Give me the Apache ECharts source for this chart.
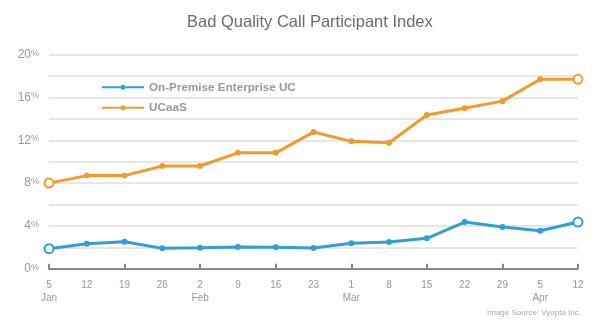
<!DOCTYPE html>
<html><head><meta charset="utf-8">
<script src="https://cdn.jsdelivr.net/npm/echarts@6/dist/echarts.min.js"></script>
<style>html,body{margin:0;padding:0;background:#fff}#c{width:600px;height:322px}</style>
</head><body><div id="c"></div>
<script>
var days = ['5','12','19','26','2','9','16','23','1','8','15','22','29','5','12'];
var months = ['Jan','','','','Feb','','','','Mar','','','','','Apr',''];
var onPrem = [1.87,2.34,2.52,1.9,1.96,2.03,2.0,1.93,2.37,2.5,2.84,4.36,3.9,3.55,4.36];
var ucaas = [8.0,8.7,8.7,9.6,9.6,10.83,10.83,12.77,11.9,11.77,14.36,15.0,15.66,17.7,17.7];
var seriesNames = ['On-Premise Enterprise UC','UCaaS'];
var colors = ['#2f9fd6','#f39a2c'];

function mk(vals, color){
  return vals.map(function(v,i){
    var end = (i===0 || i===vals.length-1);
    return end ? {value:v, symbolSize:9, itemStyle:{color:'#fff', borderColor:color, borderWidth:2}} : {value:v};
  });
}
var legendIcon = 'path://M0,5 L18.7,5 L18.7,7 L0,7 Z M23.3,5 L42,5 L42,7 L23.3,7 Z M18.5,6 A2.5,2.5 0 1,0 23.5,6 A2.5,2.5 0 1,0 18.5,6 Z';
var chart = echarts.init(document.getElementById('c'), null, {renderer:'canvas'});
chart.setOption({
  animation:false,
  backgroundColor:'#fff',
  title:{text:'Bad Quality Call Participant Index', left:182, top:9,
    textStyle:{fontFamily:'Liberation Sans, Arial', fontWeight:'normal', fontSize:16.5, color:'#6b6b6b'}},
  legend:{orient:'vertical', left:102, top:81.3, padding:0, itemGap:8.4, itemWidth:42, itemHeight:12,
    textStyle:{fontFamily:'Liberation Sans, Arial', fontWeight:'bold', fontSize:11.7, color:'#999'},
    data:seriesNames.map(function(n){return {name:n, icon:legendIcon};})},
  grid:{left:49, right:22, top:54.7, bottom:53.3, containLabel:false},
  xAxis:{type:'category', data:days, boundaryGap:false,
    axisLine:{lineStyle:{color:'#888', width:2}},
    axisTick:{inside:true, length:5, interval:1, lineStyle:{color:'#888', width:2}},
    axisLabel:{interval:0, margin:10, color:'#999', fontFamily:'Liberation Sans, Arial', fontSize:10,
      formatter:function(v,i){return months[i] ? v+'\n{m|'+months[i]+'}' : v+'\n ';},
      lineHeight:13,
      rich:{m:{color:'#999', fontSize:10, lineHeight:13, fontFamily:'Liberation Sans, Arial'}}},
    splitLine:{show:false}},
  yAxis:{type:'value', min:0, max:20, interval:2,
    axisLine:{show:false}, axisTick:{show:false},
    axisLabel:{margin:10, formatter:function(v){return v%4===0 ? '{a|'+v+'}{b|%}' : '';},
      rich:{a:{color:'#999', fontSize:12, fontFamily:'Liberation Sans, Arial'}, b:{color:'#999', fontSize:9, fontFamily:'Liberation Sans, Arial', verticalAlign:'top', padding:[0,0,3,0]}}},
    splitLine:{lineStyle:{color:'#e6e6e6', width:2}}},
  graphic:[{type:'text', right:19, top:309, style:{text:'Image Source: Vyopta Inc.', fill:'#aaa', font:'8px Liberation Sans, Arial'}}],
  series:[
    {name:seriesNames[0], type:'line', data:mk(onPrem, colors[0]), color:colors[0], symbol:'circle', symbolSize:6,
      lineStyle:{width:3, color:colors[0]}, itemStyle:{color:colors[0]}},
    {name:seriesNames[1], type:'line', data:mk(ucaas, colors[1]), color:colors[1], symbol:'circle', symbolSize:6,
      lineStyle:{width:3, color:colors[1]}, itemStyle:{color:colors[1]}}
  ]
});
</script></body></html>
